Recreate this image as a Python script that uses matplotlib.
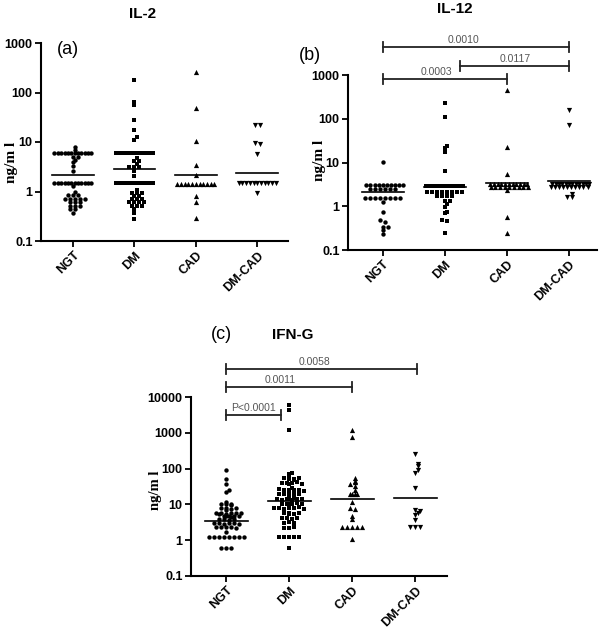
import numpy as np
import matplotlib
matplotlib.use('Agg')
import matplotlib.pyplot as plt

# Groupes et marqueurs
groupes = ['NGT', 'DM', 'CAD', 'DM-CAD']
marqueurs = ['o', 's', '^', 'v']
tailles = [10, 12, 14, 14]

# ---- IL-2 (ng/ml) ----
il2_ngt = [7.9, 7.0, 6.0, 6.0, 6.0, 6.0, 6.0, 6.0, 6.0, 6.0, 6.0, 6.0, 6.0, 6.0,
           5.0, 5.0, 4.4, 3.9, 3.2, 2.6,
           1.5, 1.5, 1.5, 1.5, 1.5, 1.5, 1.5, 1.5, 1.5, 1.5, 1.5, 1.5,
           1.27, 1.0, 0.85, 0.85, 0.85, 0.7, 0.7, 0.7, 0.7, 0.7,
           0.6, 0.6, 0.6, 0.52, 0.52, 0.52, 0.45, 0.45, 0.37]
il2_dm = [180, 65, 55, 28, 17.5, 12.5, 11,
          6.0, 6.0, 6.0, 6.0, 6.0, 6.0, 6.0, 6.0, 6.0, 6.0, 6.0, 6.0,
          4.8, 4.2, 4.2, 3.6, 3.1, 3.1, 3.1, 2.55, 2.1,
          1.5, 1.5, 1.5, 1.5, 1.5, 1.5, 1.5, 1.5, 1.5, 1.5, 1.5, 1.5,
          1.06, 0.92, 0.92, 0.92, 0.8, 0.8, 0.7, 0.7, 0.7,
          0.6, 0.6, 0.6, 0.6, 0.52, 0.52, 0.52, 0.45, 0.37, 0.28]
il2_cad = [260, 48, 10.5, 3.4, 2.2,
           1.45, 1.45, 1.45, 1.45, 1.45, 1.45, 1.45, 1.45, 1.45, 1.45, 1.45,
           0.8, 0.62, 0.29]
il2_dmcad = [22, 22, 9.4, 9.0, 5.6,
             1.5, 1.5, 1.5, 1.5, 1.5, 1.5, 1.5, 1.5, 1.5, 1.5, 1.5, 0.95]
il2_mediane = [2.2, 2.85, 2.15, 2.35]

# ---- IL-12 (ng/ml) ----
il12_ngt = [10.5, 3.0, 3.0, 3.0, 3.0, 3.0, 3.0, 3.0, 3.0, 3.0, 3.0,
            2.5, 2.5, 2.5, 2.5, 2.5, 2.5,
            1.55, 1.55, 1.55, 1.55, 1.55, 1.55, 1.55, 1.55,
            1.25, 0.75, 0.48, 0.44, 0.34, 0.33, 0.29, 0.23]
il12_dm = [225, 110, 24, 21, 17, 6.5,
           2.9, 2.9, 2.9, 2.9, 2.9, 2.9, 2.9, 2.9, 2.9, 2.9, 2.9, 2.9,
           2.15, 2.15, 2.15, 2.15, 2.15, 2.15, 2.15, 2.15,
           1.7, 1.7, 1.7, 1.7, 1.3, 1.3, 1.1, 0.98, 0.72, 0.7, 0.48, 0.47, 0.25]
il12_cad = [450, 23, 5.4,
            3.2, 3.2, 3.2, 3.2, 3.2, 3.2, 3.2, 3.2, 3.2, 3.2, 3.2,
            2.75, 2.75, 2.75, 2.75, 2.75, 2.75, 2.75, 2.75, 2.75,
            2.4, 0.57, 0.24]
il12_dmcad = [160, 72,
              3.2, 3.2, 3.2, 3.2, 3.2, 3.2, 3.2, 3.2, 3.2, 3.2, 3.2, 3.2,
              2.8, 2.8, 2.8, 2.8, 2.8, 2.8, 2.8, 2.8, 2.8, 2.8,
              1.9, 1.6, 1.6]
il12_mediane = [2.15, 2.75, 3.4, 3.7]

# ---- IFN-G (ng/ml) ----
ifn_ngt = [90, 50, 38, 25, 22, 12,
           10.5, 10, 10, 9.6, 8.0, 7.7, 7.5, 7.7, 7.2,
           5.8, 5.6, 5.5, 5.6, 5.4, 5.6, 5.7,
           4.8, 4.7, 4.6, 4.7, 4.5, 4.7, 3.9, 3.8, 3.7, 3.8,
           3.0, 2.95, 2.9, 2.95, 3.0, 2.9, 2.3, 2.3, 2.4, 2.3, 2.2, 1.73,
           1.2, 1.2, 1.2, 1.2, 1.2, 1.2, 1.2, 1.2,
           0.59, 0.59, 0.59]
ifn_dm = [6000, 4200, 1200, 74, 70,
          55, 53, 52, 50, 53, 48, 40, 39, 37, 39, 41, 38,
          27, 26, 25, 26, 28, 26, 24, 19, 20, 19, 18, 19, 21, 19,
          14, 14.5, 13.5, 14, 15, 13, 14, 14, 10.5, 10.3, 10, 10.3, 11, 10.3,
          7.8, 8.0, 7.6, 7.8, 7.8, 8.2, 7.5, 5.6, 5.8, 5.5, 5.6, 5.4,
          4.1, 4.2, 4.0, 4.1, 3.1, 3.2, 3.0, 2.2, 2.2, 2.3,
          1.2, 1.2, 1.2, 1.2, 1.2, 0.6]
ifn_cad = [1200, 750, 55, 45, 42, 37, 32, 25, 20, 20, 19, 19, 12, 8, 7.5,
           4.8, 3.8, 2.3, 2.3, 2.3, 2.3, 2.3, 1.1]
ifn_dmcad = [250, 135, 115, 92, 75, 28, 6.8, 6.5, 5.8, 5.0, 3.7, 2.4, 2.4, 2.4]
ifn_mediane = [3.5, 12.5, 14.5, 15]

W, H = 600, 631


def boite(x0, y0, x1, y1):
    return [x0 / W, 1 - y1 / H, (x1 - x0) / W, (y1 - y0) / H]


def essaim(valeurs, px_decade, px_cat, ecart=5.0, largeur=37.0, hauteur=2.5, marque=3.5):
    """Points ranges en lignes (facon GraphPad), decalage en unites de categorie."""
    ys = np.log10(valeurs) * px_decade
    rangs = np.round(ys / hauteur).astype(int)
    xs = np.zeros(len(ys))
    precedent = []
    for r in np.unique(rangs):
        idx = np.where(rangs == r)[0]
        n = len(idx)
        pas = ecart if n < 2 else min(ecart, largeur / (n - 1))
        off = (np.arange(n) - (n - 1) / 2) * pas
        ymoy = ys[idx].mean()
        # eviter la superposition avec la ligne juste en dessous
        if any(abs(ymoy - py) < marque and abs(o - px) < marque
               for px, py in precedent for o in off):
            off = off + pas / 2
        xs[idx] = off
        precedent = [(x, ymoy) for x in off]
    return xs / px_cat


def panneau(pix, xlim, ymax, series, medianes):
    x0, y0, x1, y1 = pix
    ax = fig.add_axes(boite(*pix))
    ax.set_yscale('log')
    ax.set_ylim(0.1, ymax)
    ax.set_xlim(*xlim)
    px_decade = (y1 - y0) / np.log10(ymax / 0.1)
    px_cat = (x1 - x0) / (xlim[1] - xlim[0])
    for i, vals in enumerate(series):
        dx = essaim(vals, px_decade, px_cat)
        ax.scatter(i + dx, vals, marker=marqueurs[i], s=tailles[i], color='black',
                   linewidths=0, zorder=3, clip_on=False)
        ax.plot([i - 0.34, i + 0.34], [medianes[i], medianes[i]], color='black',
                lw=1.2, zorder=4)
    for s in ['top', 'right']:
        ax.spines[s].set_visible(False)
    for s in ['left', 'bottom']:
        ax.spines[s].set_linewidth(1.5)
    ticks = [10.0 ** k for k in range(-1, int(round(np.log10(ymax))) + 1)]
    ax.set_yticks(ticks)
    ax.set_yticklabels(['0.1'] + ['%d' % t for t in ticks[1:]])
    ax.minorticks_off()
    ax.set_xticks(range(len(groupes)))
    ax.set_xticklabels(groupes, rotation=45, ha='right', rotation_mode='anchor')
    ax.tick_params(direction='out', length=4, width=1.3, labelsize=9, pad=2)
    for lab in ax.get_xticklabels() + ax.get_yticklabels():
        lab.set_fontweight('bold')
        lab.set_family('Liberation Sans')
    return ax, y1 - y0


def crochet(ax, h_px, xa, xb, yf, texte, xt=None):
    tr = ax.get_xaxis_transform()
    cap = 5 / h_px
    ax.plot([xa, xb], [yf, yf], color='#222222', lw=1.3, transform=tr, clip_on=False)
    for x in (xa, xb):
        ax.plot([x, x], [yf - cap, yf + cap], color='#222222', lw=1.3,
                transform=tr, clip_on=False)
    if xt is None:
        xt = (xa + xb) / 2
    ax.text(xt, yf + 2 / h_px, texte, transform=tr, ha='center',
            va='bottom', fontsize=7.5, color='#555555', family='Liberation Sans')


def texte_px(x, y, s, **kw):
    fig.text(x / W, 1 - y / H, s, ha='center', va='center', **kw)


fig = plt.figure(figsize=(6.0, 6.31), dpi=100)

# (a) IL-2
axa, ha = panneau((41, 43, 288, 241), (-0.52, 3.5), 1000,
                  [il2_ngt, il2_dm, il2_cad, il2_dmcad], il2_mediane)
texte_px(143, 14, 'IL-2', fontsize=11, fontweight='bold', family='Liberation Sans')
texte_px(68, 50, '(a)', fontsize=13, family='Liberation Sans')
texte_px(12, 162, 'ng/m l', rotation=90, fontsize=11, fontweight='bold',
         family='Liberation Serif')

# (b) IL-12
axb, hb = panneau((348, 75, 597, 250), (-0.56, 3.45), 1000,
                  [il12_ngt, il12_dm, il12_cad, il12_dmcad], il12_mediane)
texte_px(455, 9, 'IL-12', fontsize=11, fontweight='bold', family='Liberation Sans')
texte_px(310, 55, '(b)', fontsize=13, family='Liberation Sans')
texte_px(319, 160, 'ng/m l', rotation=90, fontsize=11, fontweight='bold',
         family='Liberation Serif')
crochet(axb, hb, 0, 3, 1.16, '0.0010', xt=1.3)
crochet(axb, hb, 1.25, 3, 1.051, '0.0117')
crochet(axb, hb, 0, 2, 0.977, '0.0003', xt=0.87)

# (c) IFN-G
axc, hc = panneau((191, 397, 447, 576), (-0.56, 3.5), 10000,
                  [ifn_ngt, ifn_dm, ifn_cad, ifn_dmcad], ifn_mediane)
texte_px(293, 335, 'IFN-G', fontsize=11, fontweight='bold', family='Liberation Sans')
texte_px(221, 334, '(c)', fontsize=13, family='Liberation Sans')
texte_px(155, 490, 'ng/m l', rotation=90, fontsize=10.5, fontweight='bold',
         family='Liberation Serif')
crochet(axc, hc, 0, 3.03, 1.156, '0.0058', xt=1.4)
crochet(axc, hc, 0, 2, 1.056, '0.0011', xt=0.86)
crochet(axc, hc, 0, 0.86, 0.899, 'P<0.0001')

fig.savefig('out.png', dpi=100)
